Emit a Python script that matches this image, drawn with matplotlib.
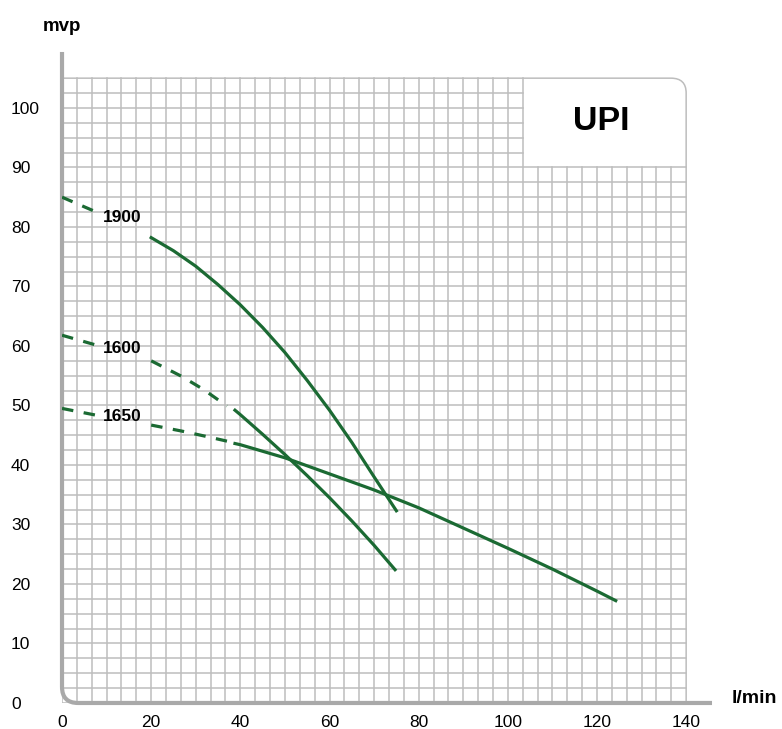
import numpy as np
import matplotlib
matplotlib.use('Agg')
import matplotlib.pyplot as plt
from matplotlib.path import Path
from matplotlib.patches import PathPatch

plt.rcParams['font.family'] = ['Liberation Sans', 'DejaVu Sans']

# data (flow l/min, head mvp)
x_ticks = [0, 20, 40, 60, 80, 100, 120, 140]
y_ticks = [0, 10, 20, 30, 40, 50, 60, 70, 80, 90, 100]

# 1900
q1900_dash_a = [0, 7.4]
h1900_dash_a = [85.0, 82.6]
q1900 = [20, 25, 30, 35, 40, 45, 50, 55, 60, 65, 70, 75]
h1900 = [78.2, 76.0, 73.4, 70.3, 66.9, 63.1, 58.9, 54.2, 49.2, 43.8, 38.0, 32.3]

# 1600
q1600_dash_a = [0, 7.4]
h1600_dash_a = [61.8, 60.2]
q1600_dash_b = [20, 26.8, 31.7, 37.0]
h1600_dash_b = [57.5, 54.9, 52.7, 49.9]
q1600 = [38.8, 40, 45, 50, 55, 60, 65, 70, 74.7]
h1600 = [49.2, 48.45, 45.15, 41.75, 38.2, 34.5, 30.6, 26.5, 22.4]

# 1650
q1650_dash_a = [0, 7.4]
h1650_dash_a = [49.5, 48.4]
q1650_dash_b = [20, 26.8, 31.7, 37.0]
h1650_dash_b = [46.7, 45.7, 44.9, 44.0]
q1650 = [38.8, 40, 50, 60, 70, 80, 90, 100, 110, 120, 124.2]
h1650 = [43.6, 43.4, 41.2, 38.5, 35.8, 32.8, 29.4, 26.0, 22.5, 18.8, 17.2]

curve_labels = ['1900', '1600', '1650']
label_y = [81.5, 59.6, 48.1]

green = '#1b6a33'
grid_c = '#bdbdbd'
axis_c = '#a9a9a9'

fig = plt.figure(figsize=(7.82, 7.29), dpi=100)
ax = fig.add_axes([0.0793, 0.0357, 0.8312, 0.8930])
ax.set_xlim(0, 145.8)
ax.set_ylim(0, 109.4)
for s in ax.spines.values():
    s.set_visible(False)

# grid with the UPI box cut out
gx = np.arange(42) * 10 / 3
gy = np.arange(42) * 2.5
for i, x in enumerate(gx):
    top = 90 if i > 31 else 105
    ax.plot([x, x], [0, top], color=grid_c, lw=1.1, zorder=1)
for j, y in enumerate(gy):
    right = 103.333 if j > 36 else 140
    ax.plot([0, right], [y, y], color=grid_c, lw=1.1, zorder=1)

# outer border with rounded top-right corner
rx, ry = 3.4, 2.5
border = Path([(0, 105), (140 - rx, 105), (140, 105), (140, 105 - ry), (140, 0)],
              [Path.MOVETO, Path.LINETO, Path.CURVE3, Path.CURVE3, Path.LINETO])
ax.add_patch(PathPatch(border, fill=False, edgecolor=grid_c, lw=1.1, zorder=1))

# axes with rounded bottom-left corner
rx, ry = 3.6, 2.7
axis_path = Path([(0, 109.4), (0, ry), (0, 0), (rx, 0), (145.8, 0)],
                 [Path.MOVETO, Path.LINETO, Path.CURVE3, Path.CURVE3, Path.LINETO])
ax.add_patch(PathPatch(axis_path, fill=False, edgecolor=axis_c, lw=3.0,
                       capstyle='butt', clip_on=False, zorder=3))

dash = (0, (3.6, 3.3))
lw = 2.3
ax.plot(q1900_dash_a, h1900_dash_a, color=green, lw=lw, ls=dash, zorder=4)
ax.plot(q1900, h1900, color=green, lw=lw, zorder=4)
ax.plot(q1600_dash_a, h1600_dash_a, color=green, lw=lw, ls=dash, zorder=4)
ax.plot(q1600_dash_b, h1600_dash_b, color=green, lw=lw, ls=dash, zorder=4)
ax.plot(q1600, h1600, color=green, lw=lw, zorder=4)
ax.plot(q1650_dash_a, h1650_dash_a, color=green, lw=lw, ls=dash, zorder=4)
ax.plot(q1650_dash_b, h1650_dash_b, color=green, lw=lw, ls=dash, zorder=4)
ax.plot(q1650, h1650, color=green, lw=lw, zorder=4)

for txt, y in zip(curve_labels, label_y):
    ax.text(13.4, y, txt, ha='center', va='center', fontsize=12.5,
            fontweight='bold', family=['Liberation Sans', 'DejaVu Sans'], zorder=5)

ax.text(120.9, 97.7, 'UPI', ha='center', va='center', fontsize=24.5,
        fontweight='bold', zorder=5)
ax.text(0, 113.7, 'mvp', ha='center', va='center', fontsize=13.5,
        fontweight='bold', clip_on=False)
ax.text(150.2, 0.7, 'l/min', ha='left', va='center', fontsize=14,
        fontweight='bold', clip_on=False)

ax.set_xticks(x_ticks)
ax.set_yticks(y_ticks)
ax.tick_params(axis='both', length=0, labelsize=12.5)
ax.tick_params(axis='x', pad=8.5)
ax.tick_params(axis='y', pad=36.7)
for lbl in ax.get_yticklabels():
    lbl.set_ha('left')

fig.savefig('out.png', dpi=100)
